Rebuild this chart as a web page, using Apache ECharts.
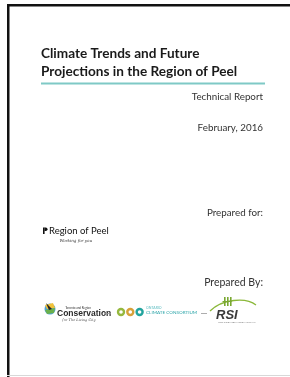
<!DOCTYPE html>
<html>
<head>
<meta charset="utf-8">
<script src="https://cdn.jsdelivr.net/npm/echarts@6/dist/echarts.min.js"></script>
<style>
  html, body { margin: 0; padding: 0; background: #fff; }
  #main { width: 290px; height: 377px; }
</style>
</head>
<body>
<div id="main"></div>
<script>
// cover page texts
var titleLines = ['Climate Trends and Future', 'Projections in the Region of Peel'];
var rightLines = ['Technical Report', 'February, 2016', 'Prepared for:', 'Prepared By:'];
var partnerNames = ['Conservation', 'CLIMATE CONSORTIUM', 'RSI'];
var occColors = ['#95b83e', '#d7a13a', '#22a49e'];

var myChart = echarts.init(document.getElementById('main'));

var font = 'Lato, "Open Sans", sans-serif';
var graphics = [];

// page frame (thick top + left, faint bottom)
graphics.push({ type: 'rect', shape: { x: 7, y: 4, width: 283, height: 2.5 }, style: { fill: '#111' } });
graphics.push({ type: 'rect', shape: { x: 7, y: 4, width: 2.5, height: 373 }, style: { fill: '#111' } });
graphics.push({ type: 'rect', shape: { x: 7, y: 375, width: 283, height: 1 }, style: { fill: '#d8d8d8' } });

// title
titleLines.forEach(function (t, i) {
    graphics.push({
        type: 'text', x: 41, y: 53.5 + i * 18,
        style: { text: t, font: 'bold 13.6px ' + font, fill: '#1a1a1a', textVerticalAlign: 'middle' }
    });
});
graphics.push({ type: 'rect', shape: { x: 41, y: 82.5, width: 224, height: 2 }, style: { fill: '#7fc9c6' } });

// right aligned lines
var rightY = [97, 128, 213, 283];
rightLines.forEach(function (t, i) {
    graphics.push({
        type: 'text', x: 263, y: rightY[i],
        style: { text: t, font: (i === 3 ? '10.5px ' : '9.8px ') + font, fill: '#333', textAlign: 'right', textVerticalAlign: 'middle' }
    });
});

// Region of Peel logo
graphics.push({ type: 'rect', shape: { x: 43, y: 227.5, width: 1.6, height: 6.5 }, style: { fill: '#111' } });
graphics.push({ type: 'rect', shape: { x: 44.5, y: 227.5, width: 3, height: 3.5, r: [0, 2, 2, 0] }, style: { fill: '#111' } });
graphics.push({
    type: 'text', x: 49, y: 231,
    style: { text: 'Region of Peel', font: '9.5px ' + font, fill: '#111', textVerticalAlign: 'middle' }
});
graphics.push({
    type: 'text', x: 92, y: 241,
    style: { text: 'Working for you', font: 'italic 4px "DejaVu Serif", serif', fill: '#333', textAlign: 'right', textVerticalAlign: 'middle' }
});

// partner logos row
// TRCA icon
graphics.push({ type: 'circle', shape: { cx: 50, cy: 309, r: 5.5 }, style: { fill: '#4da3d8' } });
graphics.push({ type: 'polygon', shape: { points: [[45, 305], [53, 303], [55, 308], [47, 309]] }, style: { fill: '#f2c23a' } });
graphics.push({ type: 'polygon', shape: { points: [[45, 310], [55, 308], [54, 313], [47, 314]] }, style: { fill: '#6ab04c' } });
graphics.push({ type: 'polygon', shape: { points: [[46, 303], [52, 309], [49, 310]] }, style: { fill: '#222' } });
graphics.push({
    type: 'text', x: 78, y: 308,
    style: { text: 'Toronto and Region', font: '3px ' + font, fill: '#333', textAlign: 'center', textVerticalAlign: 'middle' }
});
graphics.push({
    type: 'text', x: 57, y: 314,
    style: { text: partnerNames[0], font: 'bold 8.5px "Liberation Sans", Arial, sans-serif', fill: '#2a2a2a', textVerticalAlign: 'middle' }
});
graphics.push({
    type: 'text', x: 79, y: 320,
    style: { text: 'for The Living City', font: 'italic 3.5px "DejaVu Serif", serif', fill: '#444', textAlign: 'center', textVerticalAlign: 'middle' }
});
graphics.push({ type: 'rect', shape: { x: 105, y: 313, width: 6, height: 0.8 }, style: { fill: '#999' } });

// OCC
occColors.forEach(function (c, i) {
    graphics.push({ type: 'circle', shape: { cx: 121 + i * 9.3, cy: 312, r: 4.2 }, style: { fill: c } });
    graphics.push({ type: 'circle', shape: { cx: 121 + i * 9.3, cy: 312, r: 1.8 }, style: { fill: '#fff' } });
});
graphics.push({
    type: 'text', x: 146, y: 308,
    style: { text: 'ONTARIO', font: '3.5px ' + font, fill: '#5bbcc0', textVerticalAlign: 'middle' }
});
graphics.push({
    type: 'text', x: 146, y: 313,
    style: { text: partnerNames[1], font: '4.6px ' + font, fill: '#2aa4a8', textVerticalAlign: 'middle' }
});
graphics.push({ type: 'rect', shape: { x: 201, y: 313, width: 6, height: 0.8 }, style: { fill: '#999' } });

// RSI
graphics.push({
    type: 'bezierCurve',
    shape: { x1: 210, y1: 311, x2: 256, y2: 305, cpx1: 222, cpy1: 299, cpx2: 246, cpy2: 297 },
    style: { stroke: '#8bb83a', lineWidth: 1.3, fill: null }
});
[0, 1, 2].forEach(function (i) {
    graphics.push({ type: 'rect', shape: { x: 224 + i * 3, y: 297, width: 1.6, height: 9 }, style: { fill: '#7aa832' } });
});
graphics.push({ type: 'rect', shape: { x: 222.5, y: 301, width: 9, height: 1 }, style: { fill: '#7aa832' } });
graphics.push({
    type: 'text', x: 216, y: 315.5,
    style: { text: partnerNames[2], font: 'italic bold 13px "Liberation Sans", Arial, sans-serif', fill: '#3a3a3a', textVerticalAlign: 'middle' }
});
graphics.push({
    type: 'text', x: 237, y: 322.5,
    style: { text: 'RISK SCIENCES INTERNATIONAL', font: '2.5px ' + font, fill: '#777', textAlign: 'center', textVerticalAlign: 'middle' }
});

var option = {
    backgroundColor: '#fff',
    animation: false,
    graphic: { elements: graphics }
};

myChart.setOption(option);
</script>
</body>
</html>
